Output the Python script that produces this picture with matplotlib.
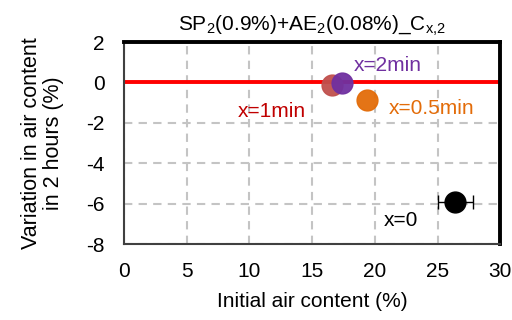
import matplotlib
matplotlib.use("Agg")
import matplotlib.pyplot as plt

plt.rcParams['font.family'] = ['Liberation Sans', 'DejaVu Sans']
plt.rcParams['mathtext.fontset'] = 'custom'
plt.rcParams['mathtext.rm'] = 'Liberation Sans'
plt.rcParams['mathtext.it'] = 'Liberation Sans'
plt.rcParams['axes.unicode_minus'] = False

labels = ["x=0", "x=0.5min", "x=1min", "x=2min"]
air_initial = [26.4, 19.4, 16.6, 17.4]
variation = [-5.9, -0.85, -0.15, -0.05]
xerr = [1.4, 0, 0, 0]
colors = ["#000000", "#e36c09", "#c0504d", "#7030a0"]
label_colors = ["#000000", "#e36c09", "#c00000", "#7030a0"]
label_pos = [(20.7, -6.85), (21.1, -1.3), (9.1, -1.45), (18.3, 0.85)]

fig = plt.figure(figsize=(5.12, 3.2), dpi=100)
ax = fig.add_axes([0.242, 0.2375, 0.735, 0.631])

ax.set_xlim(0, 30)
ax.set_ylim(-8, 2)
ax.set_xticks(range(0, 31, 5))
ax.set_yticks(range(-8, 3, 2))
ax.grid(True, color="#c4c4c4", linestyle=(0, (4, 3)), linewidth=1.5)
ax.set_axisbelow(True)

ax.axhline(0, color="#ff0000", linewidth=2.8, zorder=2)

for i in range(len(labels)):
    if xerr[i] > 0:
        ax.errorbar(air_initial[i], variation[i], xerr=xerr[i], fmt='o',
                    color=colors[i], markersize=15, capsize=5, elinewidth=1,
                    capthick=1, zorder=3)
    else:
        ax.plot(air_initial[i], variation[i], 'o', color=colors[i],
                markersize=15, zorder=3, alpha=0.95)
    ax.text(label_pos[i][0], label_pos[i][1], labels[i], color=label_colors[i],
            fontsize=15, va='center', ha='left', zorder=4)

for s in ['top', 'right']:
    ax.spines[s].set_linewidth(2.8)
    ax.spines[s].set_color('black')
for s in ['left', 'bottom']:
    ax.spines[s].set_linewidth(1.5)
    ax.spines[s].set_color('#404040')

ax.tick_params(axis='both', length=0, labelsize=15)
ax.tick_params(axis='x', pad=13)
ax.tick_params(axis='y', pad=14)
ax.set_xlabel("Initial air content (%)", fontsize=15, labelpad=8)
ax.set_ylabel("Variation in air content\nin 2 hours (%)", fontsize=15.5,
              labelpad=16, linespacing=1.05)
ax.set_title(r"SP$_\mathregular{2}$(0.9%)+AE$_\mathregular{2}$(0.08%)_C$_\mathregular{x{,}2}$",
             fontsize=15, pad=8)

fig.savefig("out.png", dpi=100)
